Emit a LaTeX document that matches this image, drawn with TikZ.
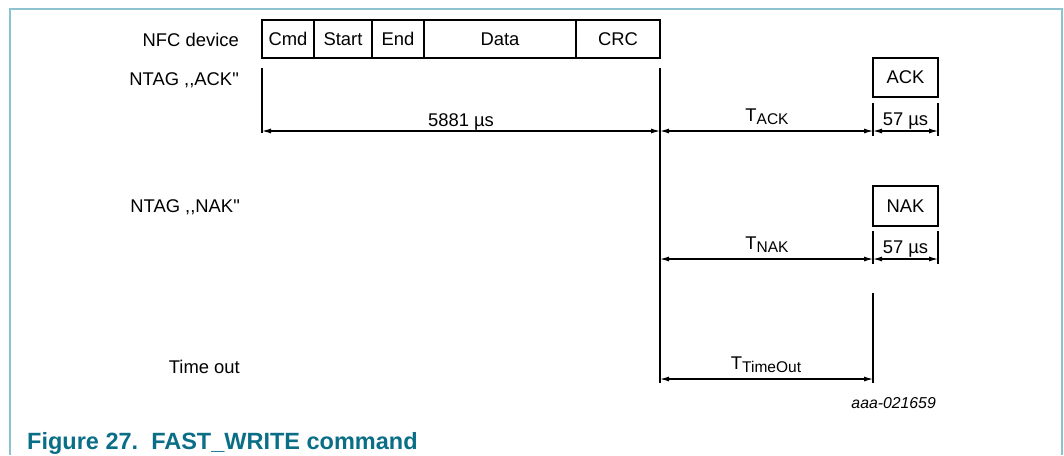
\documentclass[tikz,border=0pt]{standalone}
\usepackage{fontspec}
\setmainfont{Liberation Sans}
\usetikzlibrary{arrows.meta}
\definecolor{framec}{RGB}{140,195,206}
\definecolor{capc}{RGB}{10,110,135}
\newcommand{\lbl}{\fontsize{18.4}{22}\selectfont}
\newcommand{\subt}[1]{\raisebox{-3pt}{\fontsize{15.5}{18}\selectfont #1}}
\newcommand{\dq}{\XeTeXglyph\XeTeXcharglyph"22\relax}
\tikzset{
  field/.style={draw, line width=2.6pt, minimum height=38pt, inner sep=0pt, font=\lbl},
  tick/.style={line width=1.1pt},
  dim/.style={line width=1.1pt, {Latex[length=9pt,width=5pt]}-{Latex[length=9pt,width=5pt]}},
  rowlbl/.style={anchor=base east, inner sep=0pt, font=\lbl},
  dimlbl/.style={anchor=base, inner sep=0pt, font=\lbl},
}
\begin{document}
\begin{tikzpicture}[x=1pt,y=-1pt]
\useasboundingbox (0,0) rectangle (1064,455);
% frame
\draw[framec, line width=1.6pt] (10,455) -- (10,9) -- (1062,9) -- (1062,455);
% row labels
\node[rowlbl] (lnfc) at (239,46) {NFC device};
\node[rowlbl] (lack) at (239,85) {NTAG ,{},ACK\dq};
\node[rowlbl] (lnak) at (240,212) {NTAG ,{},NAK\dq};
\node[rowlbl] (lto) at (240,373) {Time out};
% command fields
\node[field, minimum width=52pt] (cmd) at (288,39) {Cmd};
\node[field, minimum width=58pt] (start) at (343,39) {Start};
\node[field, minimum width=52pt] (end) at (398,39) {End};
\node[field, minimum width=152pt] (data) at (500,39) {Data};
\node[field, minimum width=84pt] (crc) at (618,39) {CRC};
% responses
\node[field, minimum width=65pt, minimum height=39pt] (ack) at (905.5,77.5) {ACK};
\node[field, minimum width=65pt, minimum height=40pt] (nak) at (905.5,206) {NAK};
% coordinates
\coordinate (a1) at (262,68);
\coordinate (a2) at (262,133);
\coordinate (b1) at (660,68);
\coordinate (b2) at (660,383);
\coordinate (c1) at (873,103);
\coordinate (c2) at (873,136);
\coordinate (d1) at (938,103);
\coordinate (d2) at (938,136);
\coordinate (e1) at (873,231);
\coordinate (e2) at (873,264);
\coordinate (f1) at (938,231);
\coordinate (f2) at (938,264);
\coordinate (g1) at (873,293);
\coordinate (g2) at (873,383);
\draw[tick] (a1) -- (a2);
\draw[tick] (b1) -- (b2);
\draw[tick] (c1) -- (c2);
\draw[tick] (d1) -- (d2);
\draw[tick] (e1) -- (e2);
\draw[tick] (f1) -- (f2);
\draw[tick] (g1) -- (g2);
% dimension arrows
\coordinate (p1) at (262,131);
\coordinate (p2) at (660,131);
\coordinate (p3) at (873,131);
\coordinate (p4) at (938,131);
\draw[dim] (p1) -- (p2);
\draw[dim] (p2) -- (p3);
\draw[dim] (p3) -- (p4);
\coordinate (q2) at (660,259);
\coordinate (q3) at (873,259);
\coordinate (q4) at (938,259);
\draw[dim] (q2) -- (q3);
\draw[dim] (q3) -- (q4);
\coordinate (r2) at (660,379);
\coordinate (r3) at (873,379);
\draw[dim] (r2) -- (r3);
% dimension labels
\node[dimlbl] (t1) at (461,126) {5881 µs};
\node[dimlbl] (t2) at (767,121) {T\subt{ACK}};
\node[dimlbl] (t3) at (905.5,125) {57 µs};
\node[dimlbl] (t4) at (767,249) {T\subt{NAK}};
\node[dimlbl] (t5) at (905.5,253) {57 µs};
\node[dimlbl] (t6) at (766,369) {T\subt{TimeOut}};
% id
\node[anchor=base east, inner sep=0pt, font=\fontsize{15.8}{18}\selectfont\itshape] (id) at (936,408) {aaa-021659};
% caption
\node[anchor=base west, inner sep=0pt, text=capc, font=\fontsize{23.5}{27}\selectfont\bfseries] (cap) at (27,449) {Figure 27.\ \ FAST\_WRITE command};
\end{tikzpicture}
\end{document}
